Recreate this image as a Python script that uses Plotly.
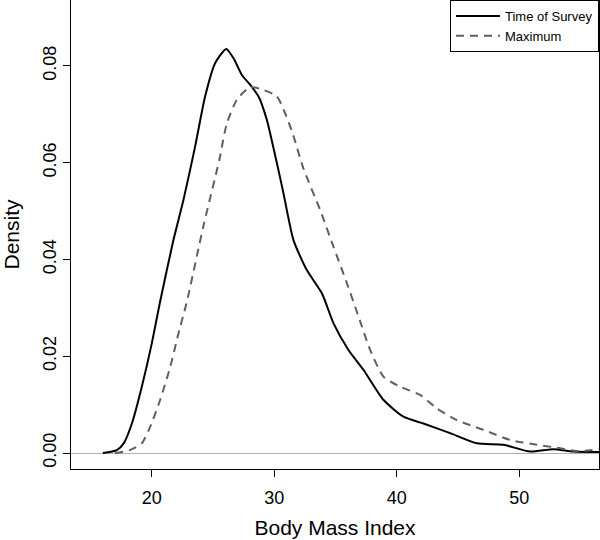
import plotly.graph_objects as go

# Body Mass Index density curves
survey_bmi = [16.0, 17.14, 17.7, 18.37, 19.18, 20.0, 20.65, 21.76, 22.58, 23.53, 24.35,
              25.17, 26.07, 26.66, 27.35, 28.02, 28.7, 29.39, 29.93, 30.33, 30.74, 31.56,
              32.65, 33.88, 34.83, 36.05, 37.27, 38.9, 40.54, 42.17, 44.35, 46.53, 48.7,
              50.88, 52.78, 54.4, 56.5]
survey_density = [0.0, 0.0006, 0.002, 0.0061, 0.0137, 0.0227, 0.031, 0.044, 0.0523, 0.0633,
                  0.0737, 0.0806, 0.0835, 0.0816, 0.0781, 0.0761, 0.0737, 0.0688,
                  0.063, 0.0585, 0.0537, 0.044, 0.0378, 0.033, 0.0268, 0.0213, 0.0172, 0.011,
                  0.0075, 0.0061, 0.0041, 0.002, 0.0017, 0.0003, 0.0008, 0.0003, 0.0002]

maximum_bmi = [17.0, 18.2, 19.18, 19.86, 20.68, 21.5, 22.17, 22.86, 24.2, 25.5, 26.12, 26.94,
               28.02, 29.11, 30.2, 30.88, 31.5, 32.37, 33.74, 34.83, 35.92, 36.87, 37.82,
               38.9, 40.27, 41.9, 43.27, 44.9, 47.07, 49.25, 51.43, 53.06, 54.69, 56.5]
maximum_density = [0.0, 0.0006, 0.002, 0.0054, 0.011, 0.0178, 0.0247, 0.0313, 0.0468, 0.0605,
                   0.0681, 0.073, 0.0756, 0.075, 0.0737, 0.0702, 0.066, 0.0588, 0.0502, 0.0426,
                   0.0351, 0.0282, 0.0213, 0.0158, 0.0137, 0.012, 0.0092, 0.0068, 0.0048,
                   0.0027, 0.0017, 0.0011, 0.0004, 0.0008]

x_ticks = [20, 30, 40, 50]
y_ticks = [0.00, 0.02, 0.04, 0.06, 0.08]
y_tick_labels = ["0.00", "0.02", "0.04", "0.06", "0.08"]

FONT = "Liberation Sans, Arial, Helvetica, sans-serif"

fig = go.Figure()
fig.add_trace(go.Scatter(x=survey_bmi, y=survey_density, mode="lines", name="Time of Survey",
                         line=dict(color="black", width=2, shape="spline", smoothing=0.6)))
fig.add_trace(go.Scatter(x=maximum_bmi, y=maximum_density, mode="lines", name="Maximum",
                         line=dict(color="#606060", width=2, dash="8px,6px", shape="spline",
                                   smoothing=0.6)))

fig.update_layout(
    width=600, height=540,
    margin=dict(l=71, r=1, t=0, b=71, autoexpand=False),
    paper_bgcolor="white", plot_bgcolor="white",
    font=dict(family=FONT, color="black"),
    showlegend=True,
    legend=dict(x=1, y=1, xanchor="right", yanchor="top",
                bgcolor="white", bordercolor="black", borderwidth=1,
                font=dict(size=13, family=FONT), tracegroupgap=0,
                itemwidth=44),
    xaxis=dict(range=[13.4, 56.5], tickvals=x_ticks, ticks="outside", ticklen=7,
               tickcolor="black", showline=True, linecolor="black", linewidth=1,
               mirror=True, showgrid=False, zeroline=False, automargin=False,
               tickfont=dict(size=18), ticklabelstandoff=5,
               title=dict(text="Body Mass Index", font=dict(size=21), standoff=13)),
    yaxis=dict(range=[-0.0033, 0.0936], tickvals=y_ticks, ticktext=y_tick_labels,
               ticks="outside", ticklen=7, tickcolor="black", tickangle=-90,
               showline=True, linecolor="black", linewidth=1, mirror=True,
               showgrid=False, zeroline=True, zerolinecolor="#b0b0b0", zerolinewidth=1,
               automargin=False,
               tickfont=dict(size=18), ticklabelstandoff=0,
               title=dict(text="Density", font=dict(size=21), standoff=14)),
)

fig.write_html("out.html",
               config={"displayModeBar": False},
               post_script="document.body.style.margin='0';")
